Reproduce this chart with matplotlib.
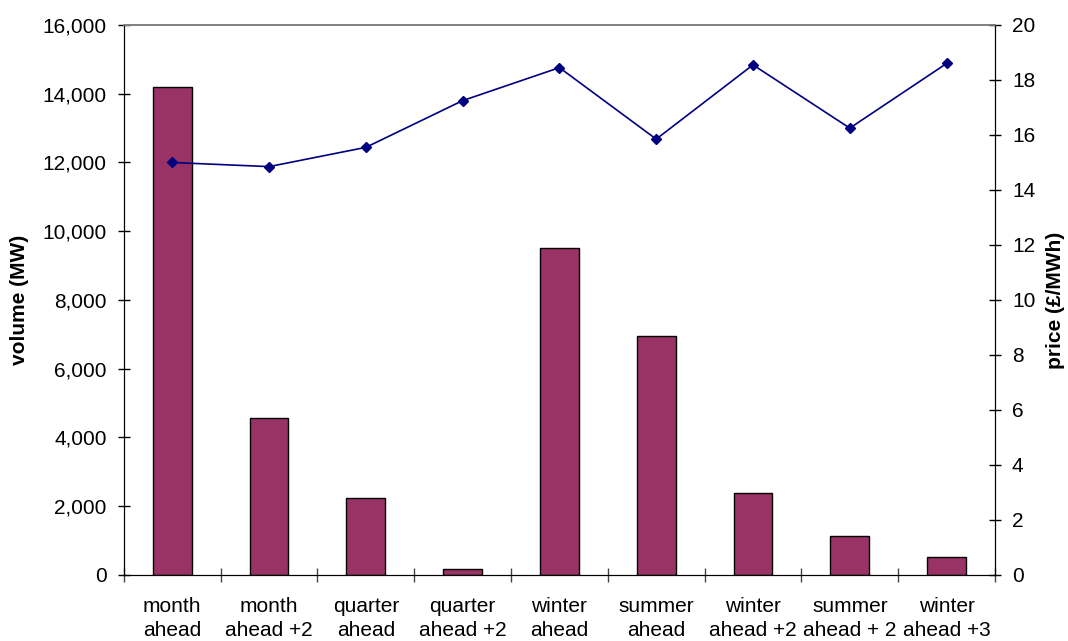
import numpy as np
import matplotlib.pyplot as plt
from matplotlib.ticker import FuncFormatter

products = ["month\nahead", "month\nahead +2", "quarter\nahead", "quarter\nahead +2",
            "winter\nahead", "summer\nahead", "winter\nahead +2", "summer\nahead + 2",
            "winter\nahead +3"]
volume = [14200, 4570, 2240, 175, 9500, 6950, 2380, 1130, 520]
price = [15.0, 14.85, 15.55, 17.25, 18.45, 15.85, 18.55, 16.25, 18.6]

plt.rcParams['font.family'] = ['Liberation Sans', 'DejaVu Sans']

fig = plt.figure(figsize=(10.68, 6.41), dpi=100)
ax = fig.add_axes([0.116, 0.103, 0.8156, 0.858])
ax2 = ax.twinx()

x = np.arange(len(products))

# volume bars on the left axis
ax.bar(x, volume, width=0.4, color='#993366', edgecolor='black', linewidth=1.0, zorder=2)
ax.set_xlim(-0.5, len(products) - 0.5)
ax.set_ylim(0, 16000)
ax.set_yticks(np.arange(0, 16001, 2000))
ax.yaxis.set_major_formatter(FuncFormatter(lambda v, p: f"{int(v):,}"))
ax.set_ylabel("volume (MW)", fontsize=15, fontweight='bold', labelpad=10)

# category boundaries get the tick marks, labels sit between them
ax.set_xticks(np.arange(len(products) + 1) - 0.5)
ax.set_xticklabels([])
ax.set_xticks(x, minor=True)
ax.set_xticklabels(products, minor=True, fontsize=15, linespacing=1.3)
ax.tick_params(axis='x', which='major', direction='inout', length=10, width=1, color='#444444')
ax.tick_params(axis='x', which='minor', length=0, pad=16)
ax.tick_params(axis='y', direction='inout', length=8.5, width=1, labelsize=15, pad=8)

# price line on the right axis
ax2.plot(x, price, color='#000080', linewidth=1.2, marker='D', markersize=5.5)
ax2.set_ylim(0, 20)
ax2.set_yticks(np.arange(0, 21, 2))
ax2.set_ylabel("price (£/MWh)", fontsize=15, fontweight='bold', labelpad=8)
ax2.tick_params(axis='y', direction='inout', length=8.5, width=1, labelsize=15, pad=8)

for a in (ax, ax2):
    a.spines['top'].set_color('#808080')
    a.spines['top'].set_linewidth(1.2)
    a.spines['left'].set_color('black')
    a.spines['right'].set_color('black')
    a.spines['bottom'].set_color('black')

fig.savefig("out.png", dpi=100)
